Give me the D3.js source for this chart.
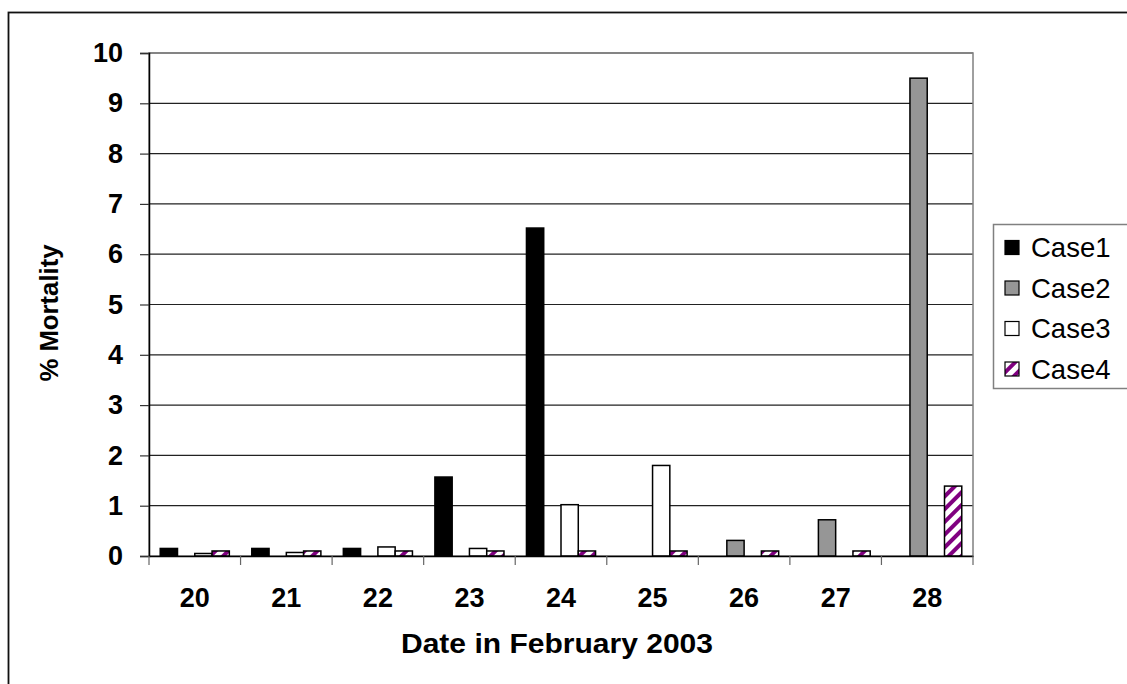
<!DOCTYPE html>
<html><head><meta charset="utf-8">
<script src="https://cdn.jsdelivr.net/npm/d3@7"></script>
<style>body{margin:0;background:#fff}svg{display:block}</style>
</head><body>
<svg id="chart" width="1127" height="684"></svg>
<script>
const categories = ["20","21","22","23","24","25","26","27","28"];
const seriesNames = ["Case1","Case2","Case3","Case4"];
const case1 = [0.15,0.15,0.15,1.57,6.52,0,0,0,0];
const case2 = [0,0,0,0,0,0,0.31,0.72,9.5];
const case3 = [0.05,0.07,0.18,0.15,1.02,1.8,0,0,0];
const case4 = [0.1,0.1,0.1,0.1,0.1,0.1,0.1,0.1,1.39];
const yTicks = [0,1,2,3,4,5,6,7,8,9,10];

const seriesValues = [case1, case2, case3, case4];
const FONT = "Liberation Sans, Arial, sans-serif";
const svg = d3.select("#chart");
const defs = svg.append("defs");
const pat = defs.append("pattern").attr("id","stripe").attr("patternUnits","userSpaceOnUse")
  .attr("width",9).attr("height",9).attr("patternTransform","rotate(45)");
pat.append("rect").attr("width",9).attr("height",9).attr("fill","#fff");
pat.append("rect").attr("x",0).attr("width",4).attr("height",9).attr("fill","#800080");

const fills = ["#000000","#969696","#ffffff","url(#stripe)"];

// outer border
svg.append("rect").attr("x",8.5).attr("y",12.5).attr("width",1130).attr("height",680)
  .attr("fill","none").attr("stroke","#111").attr("stroke-width",1.8);

const L=149, R=973, T=53, B=556;
const x = d3.scaleBand().domain(categories).range([L,R]).paddingInner(0).paddingOuter(0);
const y = d3.scaleLinear().domain([0,10]).range([B,T]);
const gapFrac = 1.3; // Excel gap width
const bw = x.bandwidth()/(4+gapFrac);
const xs = d3.scaleBand().domain(seriesNames).range([bw*gapFrac/2, bw*gapFrac/2 + 4*bw]);

// gridlines
svg.append("g").selectAll("line").data(yTicks.slice(1)).join("line")
  .attr("x1",L).attr("x2",R).attr("y1",d=>y(d)).attr("y2",d=>y(d))
  .attr("stroke","#222").attr("stroke-width",1.2);
// plot border
svg.append("rect").attr("x",L).attr("y",T).attr("width",R-L).attr("height",B-T)
  .attr("fill","none").attr("stroke","#808080").attr("stroke-width",1.5);

// bars
seriesNames.forEach((s,i)=>{
  svg.append("g").selectAll("rect").data(categories.map((c,j)=>({c,v:seriesValues[i][j]})).filter(d=>d.v>0))
    .join("rect")
    .attr("x",d=>x(d.c)+xs(s)).attr("width",xs.bandwidth())
    .attr("y",d=>y(d.v)).attr("height",d=>B-y(d.v))
    .attr("fill",fills[i]).attr("stroke","#000").attr("stroke-width",1.5);
});

// y axis
const yAxis = svg.append("g").attr("transform",`translate(${L},0)`)
  .call(d3.axisLeft(y).tickValues(yTicks).tickSize(9).tickPadding(17).tickFormat(d3.format("d")));
yAxis.attr("font-size",null).attr("font-family",null);
yAxis.select(".domain").attr("stroke","#000").attr("stroke-width",1.5);
yAxis.selectAll(".tick line").attr("stroke","#333").attr("stroke-width",1.2);
yAxis.selectAll("text").attr("font-family",FONT)
  .attr("font-size",27).attr("font-weight","bold").attr("fill","#000");

// x axis
const xAxis = svg.append("g").attr("transform",`translate(0,${B})`)
  .call(d3.axisBottom(x).tickSize(0).tickPadding(32));
xAxis.attr("font-size",null).attr("font-family",null);
xAxis.select(".domain").attr("stroke","#000").attr("stroke-width",1.5);
xAxis.selectAll("text").attr("font-family",FONT)
  .attr("font-size",27).attr("font-weight","bold").attr("fill","#000");
// category boundary ticks
svg.append("g").selectAll("line").data(d3.range(categories.length+1)).join("line")
  .attr("x1",j=>L+j*x.step()).attr("x2",j=>L+j*x.step())
  .attr("y1",B).attr("y2",B+9).attr("stroke","#666").attr("stroke-width",1.2);

// titles
svg.append("text").attr("x",(L+R)/2 - 4).attr("y",653).attr("text-anchor","middle")
  .attr("font-family",FONT).attr("font-size",28.5).attr("font-weight","bold")
  .attr("textLength",312).attr("lengthAdjust","spacingAndGlyphs")
  .text("Date in February 2003");
svg.append("text").attr("transform",`translate(58,313) rotate(-90)`).attr("text-anchor","middle")
  .attr("font-family",FONT).attr("font-size",25.5).attr("font-weight","bold")
  .attr("textLength",137).attr("lengthAdjust","spacingAndGlyphs")
  .text("% Mortality");

// legend
const lg = svg.append("g");
lg.append("rect").attr("x",993.5).attr("y",224.5).attr("width",140).attr("height",164)
  .attr("fill","#fff").attr("stroke","#808080").attr("stroke-width",1.5);
seriesNames.forEach((s,i)=>{
  const cy = 247.5 + i*40.5;
  lg.append("rect").attr("x",1005).attr("y",cy-7).attr("width",14).attr("height",14)
    .attr("fill",fills[i]).attr("stroke","#000").attr("stroke-width",1.2);
  lg.append("text").attr("x",1031).attr("y",cy+9.5).attr("font-family",FONT)
    .attr("font-size",27.5).text(s);
});
</script>
</body></html>
